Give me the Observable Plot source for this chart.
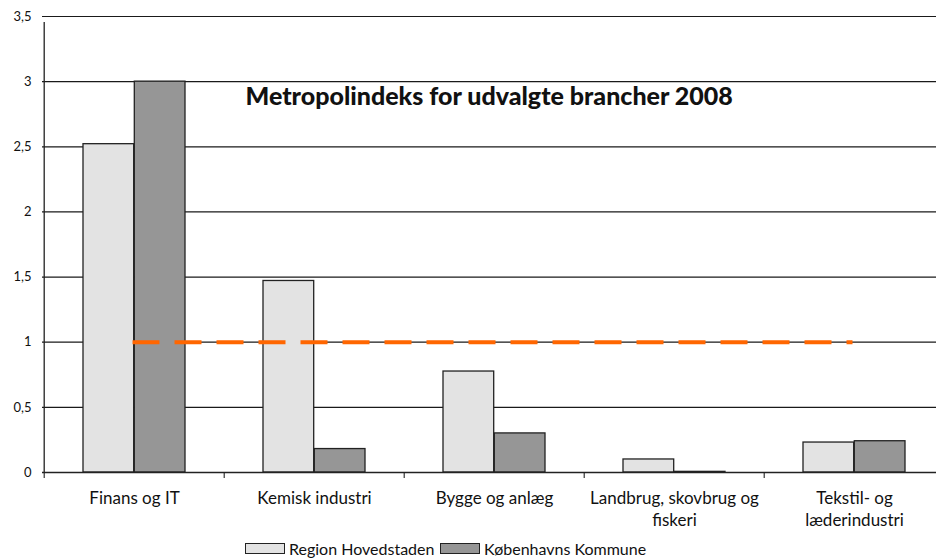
<!DOCTYPE html>
<html>
<head>
<meta charset="utf-8">
<script src="https://cdn.jsdelivr.net/npm/d3@7"></script>
<script src="https://cdn.jsdelivr.net/npm/@observablehq/plot@0.6"></script>
<style>
  html, body { margin: 0; padding: 0; background: #fff; }
  body { width: 936px; height: 559px; overflow: hidden; font-family: Lato, "Open Sans", sans-serif; }
  #legend { position: relative; height: 23px; font-size: 16px; color: #111; }
  .item { position: absolute; top: 3px; display: flex; align-items: center; }
  .sw { width: 38px; height: 9px; border: 1.3px solid #222; margin-right: 4px; }
</style>
</head>
<body>
<div id="chart"></div>
<div id="legend"></div>
<script>
const categories = ["Finans og IT", "Kemisk industri", "Bygge og anlæg", "Landbrug, skovbrug og fiskeri", "Tekstil- og læderindustri"];
const categoryLabels = ["Finans og IT", "Kemisk industri", "Bygge og anlæg", "Landbrug, skovbrug og\nfiskeri", "Tekstil- og\nlæderindustri"];
const seriesNames = ["Region Hovedstaden", "Københavns Kommune"];
const regionHovedstaden = [2.52, 1.47, 0.775, 0.10, 0.23];
const kobenhavnsKommune = [3.0, 0.18, 0.30, 0.005, 0.24];
const yTicks = [0, 0.5, 1, 1.5, 2, 2.5, 3, 3.5];
const referenceValue = 1;
const title = "Metropolindeks for udvalgte brancher 2008";
const colors = ["#e3e3e3", "#969696"];

const rowsA = categories.map((c, i) => ({cat: c, value: regionHovedstaden[i]}));
const rowsB = categories.map((c, i) => ({cat: c, value: kobenhavnsKommune[i]}));
const labelRows = categories.map((c, i) => ({cat: c, label: categoryLabels[i]}));
const refRows = categories.map(c => ({cat: c, value: referenceValue}));

const W = 936, H = 536;
const left = 42, right = 945;
const bw = (right - left) / categories.length;

const chart = Plot.plot({
  width: W,
  height: H,
  marginLeft: left,
  marginTop: 16,
  marginBottom: 64,
  marginRight: 0,
  style: {fontFamily: "Lato, 'Open Sans', sans-serif", background: "#fff", overflow: "visible"},
  x: {domain: categories, range: [left, right], padding: 0, axis: null},
  y: {domain: [0, 3.5], axis: null},
  marks: [
    Plot.ruleY(yTicks, {stroke: "#1a1a1a", strokeWidth: 1.2}),
    Plot.barY(rowsA, {x: "cat", y: "value", fill: colors[0], stroke: "#222", strokeWidth: 1.3, insetLeft: 39, insetRight: bw / 2}),
    Plot.barY(rowsB, {x: "cat", y: "value", fill: colors[1], stroke: "#222", strokeWidth: 1.3, insetLeft: bw / 2, insetRight: 39}),
    Plot.ruleX(categories, {x: d => d, y1: 0, y2: 0, insetBottom: -6, dx: -bw / 2, stroke: "#222", strokeWidth: 1.1}),
    Plot.ruleX([0], {x: () => categories[0], y1: 0, y2: 3.5, dx: -bw / 2, insetBottom: -6, stroke: "#222", strokeWidth: 1.3}),
    Plot.ruleY([0], {stroke: "#222", strokeWidth: 1.3}),
    Plot.lineY(refRows, {x: "cat", y: "value", dx: -2, stroke: "#ff6600", strokeWidth: 4, strokeDasharray: "27,15", strokeLinecap: "butt"}),
    Plot.text(yTicks, {y: d => d, frameAnchor: "left", dx: -11, textAnchor: "end", text: d => d3.format("")(d).replace(".", ","), fontSize: 13, fill: "#111"}),
    Plot.text(labelRows, {x: "cat", y: () => 0, text: "label", dy: 16, lineAnchor: "top", fontSize: 17, lineHeight: 1.3, fill: "#111"}),
    Plot.text([title], {frameAnchor: "top-left", dx: 203, dy: 71, text: d => d, fontSize: 25, fontWeight: 900, textAnchor: "start", lineAnchor: "top", fill: "#111"})
  ]
});
document.getElementById("chart").appendChild(chart);

const legend = document.getElementById("legend");
const legendX = [245, 440];
seriesNames.forEach((name, i) => {
  const item = document.createElement("div");
  item.className = "item";
  item.style.left = legendX[i] + "px";
  const sw = document.createElement("div");
  sw.className = "sw";
  sw.style.background = colors[i];
  const t = document.createElement("span");
  t.textContent = name;
  item.appendChild(sw);
  item.appendChild(t);
  legend.appendChild(item);
});
</script>
</body>
</html>
